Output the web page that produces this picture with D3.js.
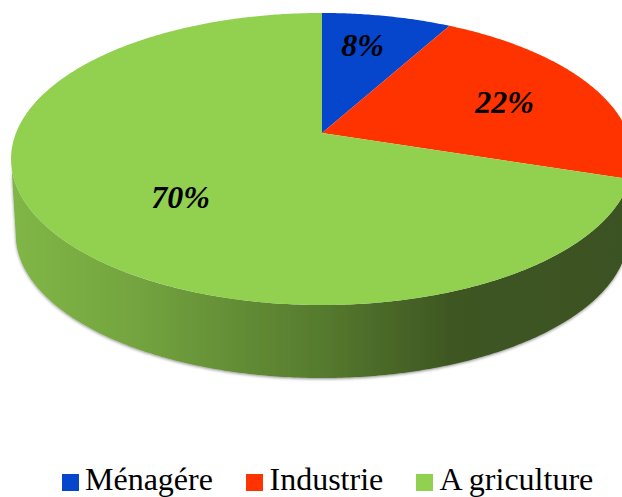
<!DOCTYPE html>
<html>
<head>
<meta charset="utf-8">
<script src="https://cdn.jsdelivr.net/npm/d3@7"></script>
<style>
  html, body { margin: 0; background: #fff; overflow: hidden; }
  svg { display: block; }
</style>
</head>
<body>
<div id="chart"></div>
<script>
// Valeurs
const categories = ["Ménagére", "Industrie", "A griculture"];
const values = [8, 22, 70];
const colors = ["#0546cc", "#ff3300", "#92d050"];

const width = 622, height = 497;

// Perspective du disque
const apex = { x: 322, y: 133 };
const radiusX = 306, radiusY = 141.4, tilt = 0.178;
const depth = 75.6, bottomScale = 0.985;

const svg = d3.select("#chart").append("svg")
    .attr("width", width)
    .attr("height", height);

const defs = svg.append("defs");

// Degrade du bord
const wallGradient = defs.append("linearGradient")
    .attr("id", "wall-gradient")
    .attr("gradientUnits", "userSpaceOnUse")
    .attr("x1", 15).attr("y1", 0)
    .attr("x2", 622).attr("y2", 0);

[[0, "#80b646"], [0.2, "#73a43f"], [0.5, "#567b2e"], [0.72, "#3e5622"], [1, "#3b5220"]]
    .forEach(s => wallGradient.append("stop").attr("offset", s[0]).attr("stop-color", s[1]));

const shadow = defs.append("filter")
    .attr("id", "wall-shadow")
    .attr("x", "-5%").attr("y", "-5%")
    .attr("width", "110%").attr("height", "115%");

shadow.append("feDropShadow")
    .attr("dx", 0).attr("dy", 1)
    .attr("stdDeviation", 1.5)
    .attr("flood-color", "#000")
    .attr("flood-opacity", 0.45);

// Projette un point du disque (angle depuis le haut, sens horaire)
function project(angle, r = 1, scale = 1, dy = 0) {
    const u = Math.sin(angle) * r, v = -Math.cos(angle) * r;
    const w = 1 - tilt * v;
    return [apex.x + scale * radiusX * u / w, apex.y + dy + scale * radiusY * v / w];
}

const line = d3.line();

function arcPoints(a0, a1, scale, dy) {
    const n = Math.max(2, Math.ceil(Math.abs(a1 - a0) / 0.01));
    return d3.range(n + 1).map(i => project(a0 + (a1 - a0) * i / n, 1, scale, dy));
}

const pie = d3.pie().sort(null);
const slices = pie(values);

// Bord visible du disque
const sideLeft = 2 * Math.PI - Math.acos(-tilt), sideRight = Math.acos(-tilt);

svg.append("path")
    .attr("d", line([
        ...arcPoints(sideRight, sideLeft, 1, 0),
        ...arcPoints(sideLeft, sideRight, bottomScale, depth)
    ]) + "Z")
    .attr("fill", "url(#wall-gradient)")
    .attr("filter", "url(#wall-shadow)");

// Secteurs
svg.append("g").selectAll("path")
    .data(slices)
    .enter()
    .append("path")
    .attr("d", d => line([[apex.x, apex.y], ...arcPoints(d.startAngle, d.endAngle, 1, 0)]) + "Z")
    .attr("fill", (d, i) => colors[i]);

// Etiquettes
const labelAnchors = [[362.5, 56], [504.5, 113], [180.5, 208]];

svg.append("g").selectAll("text")
    .data(slices)
    .enter()
    .append("text")
    .attr("x", (d, i) => labelAnchors[i][0])
    .attr("y", (d, i) => labelAnchors[i][1])
    .attr("text-anchor", "middle")
    .style("font-family", "'Liberation Serif', serif")
    .style("font-size", "32px")
    .style("font-weight", "bold")
    .style("font-style", "italic")
    .attr("fill", "#000")
    .text(d => d.value + "%");

// Legende
const legendX = [62, 246, 416];

const legend = svg.append("g").selectAll("g")
    .data(categories)
    .enter()
    .append("g")
    .attr("transform", (d, i) => `translate(${legendX[i]},474)`);

legend.append("rect")
    .attr("width", 17)
    .attr("height", 17)
    .attr("fill", (d, i) => colors[i]);

legend.append("text")
    .attr("x", (d, i) => i === 0 ? 23 : 23.5)
    .attr("y", 16)
    .style("font-family", "'Liberation Serif', serif")
    .style("font-size", "32px")
    .attr("fill", "#000")
    .text(d => d);
</script>
</body>
</html>
